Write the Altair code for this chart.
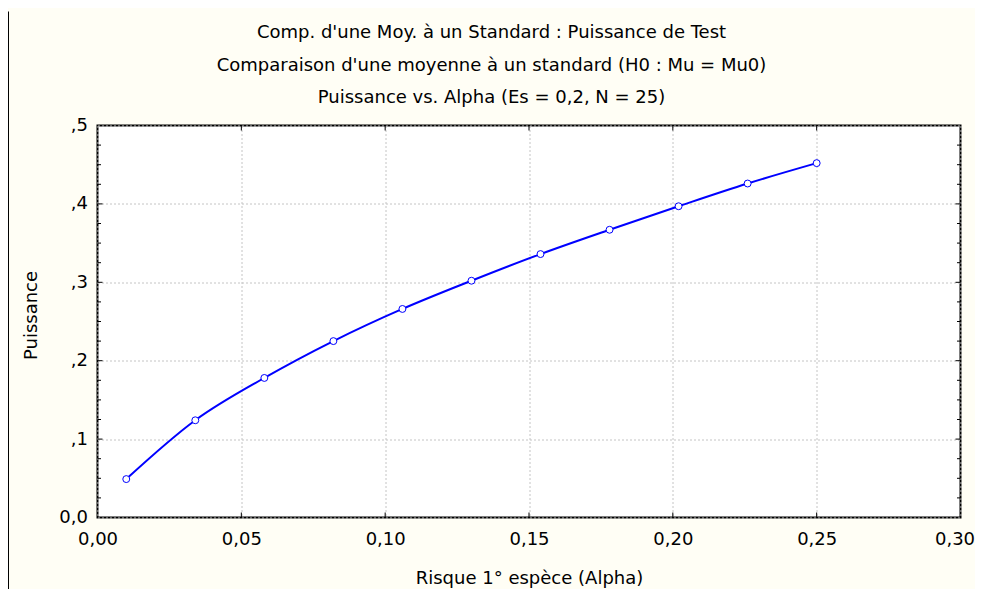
import altair as alt
import pandas as pd

# ---- data ----
alpha = [0.010, 0.034, 0.058, 0.082, 0.106, 0.130, 0.154, 0.178, 0.202, 0.226, 0.250]
power = [0.049, 0.124, 0.178, 0.225, 0.266, 0.302, 0.336, 0.367, 0.397, 0.426, 0.452]

x_major_ticks = [0.05, 0.10, 0.15, 0.20, 0.25]
y_major_ticks = [0.1, 0.2, 0.3, 0.4]
y_minor_ticks = [0.025, 0.05, 0.075, 0.125, 0.15, 0.175, 0.225, 0.25, 0.275,
                 0.325, 0.35, 0.375, 0.425, 0.45, 0.475]

title_lines = [
    "Comp. d'une Moy. à un Standard : Puissance de Test",
    "Comparaison d'une moyenne à un standard (H0 :  Mu = Mu0)",
    "Puissance vs. Alpha (Es = 0,2, N = 25)",
]
x_title = "Risque 1° espèce (Alpha)"
y_title = "Puissance"

FONT = "DejaVu Sans"
FS = 18
W, H = 863, 392

df = pd.DataFrame({"alpha": alpha, "power": power})
xs = alt.Scale(domain=[0, 0.30], nice=False, zero=False)
ys = alt.Scale(domain=[0, 0.5], nice=False, zero=False)

x_axis = alt.Axis(
    values=[0, 0.05, 0.10, 0.15, 0.20, 0.25, 0.30],
    labelExpr="replace(format(datum.value, '.2f'), '.', ',')",
    ticks=False, domain=False, grid=True, labelFlush=False, labelOverlap=False,
    labelOffset={"condition": {"test": "datum.value > 0.29", "value": -6}, "value": 0},
    gridColor="#C4C4C4", gridDash=[2, 2], gridWidth=1,
    labelFont=FONT, labelFontSize=FS, labelColor="black", labelPadding=13,
    title=x_title, titleFont=FONT, titleFontSize=FS, titleFontWeight="normal",
    titleColor="black", titleY=61, titleBaseline="middle",
)
y_axis = alt.Axis(
    values=[0, 0.1, 0.2, 0.3, 0.4, 0.5],
    labelExpr="datum.value == 0 ? '0,0' : replace(format(datum.value, '.1f'), '0.', ',')",
    ticks=False, domain=False, grid=True, labelFlush=False, labelOverlap=False,
    gridColor="#C4C4C4", gridDash=[2, 2], gridWidth=1,
    labelFont=FONT, labelFontSize=FS, labelColor="black", labelPadding=10,
    title=y_title, titleFont=FONT, titleFontSize=FS, titleFontWeight="normal",
    titleColor="black", titleX=-66, titleY=189.5, titleAngle=-90,
    titleBaseline="middle", titleAlign="center",
)

line = alt.Chart(df).mark_line(interpolate="monotone", color="#0000FF", strokeWidth=2).encode(
    x=alt.X("alpha:Q", scale=xs, axis=x_axis),
    y=alt.Y("power:Q", scale=ys, axis=y_axis),
)
points = alt.Chart(df).mark_point(
    shape="circle", size=48, filled=True, fill="white", stroke="#0000FF",
    strokeWidth=1, opacity=1,
).encode(
    x=alt.X("alpha:Q", scale=xs, axis=x_axis),
    y=alt.Y("power:Q", scale=ys, axis=y_axis),
)

ymaj = pd.DataFrame({"power": y_major_ticks})
ymin = pd.DataFrame({"power": y_minor_ticks})
xmaj = pd.DataFrame({"alpha": x_major_ticks})

def yticks(d, x0, x1):
    return alt.Chart(d).mark_rule(color="black", strokeWidth=1).encode(
        y=alt.Y("power:Q", scale=ys, axis=y_axis), x=alt.value(x0), x2=alt.value(x1))

def xticks(d, y0, y1):
    return alt.Chart(d).mark_rule(color="black", strokeWidth=1).encode(
        x=alt.X("alpha:Q", scale=xs, axis=x_axis), y=alt.value(y0), y2=alt.value(y1))

ticks = [
    yticks(ymaj, 0, 5), yticks(ymin, 0, 3.5),
    yticks(ymaj, W - 5, W), yticks(ymin, W - 3.5, W),
    xticks(xmaj, H, H - 5), xticks(xmaj, 0, 5),
]

title_df = pd.DataFrame({"t": title_lines, "row": [0, 1, 2]})
title_marks = []
for i, y in enumerate([-92.5, -59.5, -27.5]):
    title_marks.append(
        alt.Chart(title_df).transform_filter(alt.datum.row == i).mark_text(
            font=FONT, fontSize=FS, color="black", align="center", baseline="middle",
        ).encode(text="t:N", x=alt.value(394), y=alt.value(y))
    )

border = alt.Chart(pd.DataFrame({"k": [0]})).mark_rule(color="black", strokeWidth=1).encode(
    x=alt.value(-89), y=alt.value(-114), y2=alt.value(H + 80))

chart = alt.layer(line, *ticks, points, *title_marks, border).properties(
    width=W, height=H,
    autosize=alt.AutoSizeParams(type="none"),
    padding={"left": 89.5, "top": 117.5, "right": 14, "bottom": 71},
    background="#FFFEF5",
).configure_view(stroke="black", strokeWidth=2, fill="white")

chart.save("out.html", embed_options={"renderer": "svg", "actions": False})
